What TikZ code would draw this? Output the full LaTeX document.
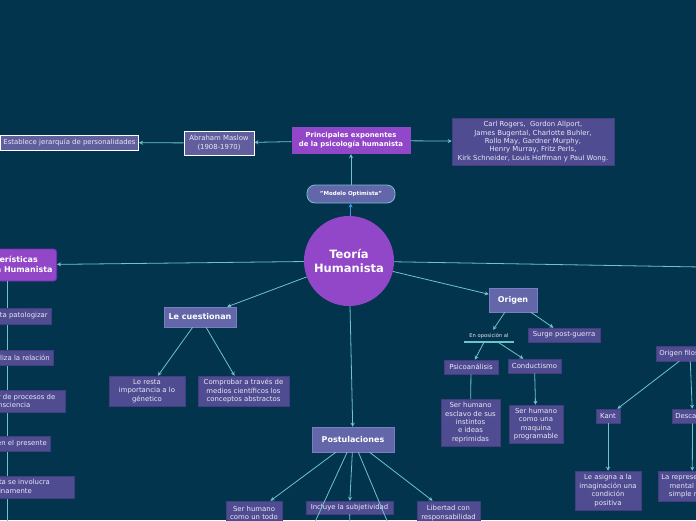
\documentclass[tikz,border=0pt]{standalone}
\usepackage{fontspec}
\setmainfont{DejaVu Sans}
\usetikzlibrary{arrows.meta, positioning}
\definecolor{bgc}{RGB}{3,52,78}
\definecolor{purplec}{RGB}{146,70,200}
\definecolor{purpleb}{RGB}{112,48,178}
\definecolor{leafc}{RGB}{80,76,146}
\definecolor{leafb}{RGB}{66,62,128}
\definecolor{headc}{RGB}{99,102,168}
\definecolor{headb}{RGB}{122,126,192}
\definecolor{linkc}{RGB}{110,195,205}
\definecolor{bluec}{RGB}{60,150,225}
\definecolor{txtc}{RGB}{232,232,244}

\begin{document}
\begin{tikzpicture}[x=1pt,y=-1pt,
  leaf/.style={fill=leafc, draw=leafb, line width=0.5pt, text=txtc, align=center,
    inner sep=0pt, font=\fontsize{6.9}{8.4}\selectfont},
  side/.style={leaf, inner xsep=3pt},
  head/.style={fill=headc, draw=headb, line width=0.5pt, text=white, align=center,
    inner sep=0pt, font=\bfseries\fontsize{8}{10}\selectfont},
  topic/.style={fill=purplec, text=white, align=center, inner sep=0pt,
    font=\bfseries\fontsize{6.9}{9}\selectfont},
  framed/.style={leaf, fill=leafc!90!white, draw=white, line width=0.9pt},
  link/.style={draw=linkc, line width=0.8pt, -{Stealth[length=4pt,width=4pt]}},
  plain/.style={draw=linkc, line width=0.8pt}]
\useasboundingbox (0,0) rectangle (696,520);
\fill [bgc] (0,0) rectangle (696,520);
\clip (0,0) rectangle (696,520);

\node [circle, fill=purplec, minimum size=90, inner sep=0pt, text=white, align=center,
  font=\bfseries\fontsize{11.5}{14}\selectfont] (theory) at (349,261) {Teoría\\Humanista};

\node [fill=headc, draw=linkc, line width=0.8pt, rounded corners=8pt, minimum width=88,
  minimum height=18, inner sep=0pt, text=white, font=\bfseries\fontsize{5.5}{7}\selectfont]
  (model) at (351,194) {"Modelo Optimista"};
\node [topic, minimum width=119, minimum height=27] (exponents) at (351,140.5)
  {Principales exponentes\\de la psicología humanista};
\node [leaf, minimum width=162, minimum height=47] (authors) at (533,141.5)
  {Carl Rogers,\ \ Gordon Allport,\\James Bugental, Charlotte Buhler,\\Rollo May, Gardner Murphy,\\Henry Murray, Fritz Perls,\\Kirk Schneider, Louis Hoffman y Paul Wong.};
\node [framed, minimum width=70, minimum height=24] (maslow) at (219,143)
  {Abraham Maslow\\(1908-1970)};
\node [framed, anchor=east, inner xsep=3pt, minimum height=15] (hierarchy) at (139,142.5)
  {Establece jerarquía de personalidades};

\node [topic, draw=purpleb, line width=0.9pt, rounded corners=3pt, anchor=east, inner xsep=4pt,
  minimum height=32, font=\bfseries\fontsize{8}{10.5}\selectfont] (traits) at (57,265)
  {Características\\Psicología Humanista};
\coordinate (trunk) at (7,540);
\draw [plain] (trunk |- traits.south) -- (trunk);
\node [side, anchor=east, minimum height=16] (pathol) at (51,316) {Evita patologizar};
\node [side, anchor=east, minimum height=15] (relation) at (53,358) {Horizontaliza la relación};
\node [leaf, anchor=east, minimum width=109, minimum height=22] (process) at (65,401)
  {Facilitador de procesos de\\consciencia};
\node [side, anchor=east, minimum height=15] (present) at (50,444) {Se centra en el presente};
\node [leaf, anchor=east, minimum width=134, minimum height=22] (genuine) at (74,487)
  {El terapeuta se involucra\\genuinamente};

\node [head, minimum width=72, minimum height=20] (question) at (200,317) {Le cuestionan};
\node [leaf, minimum width=76, minimum height=30] (genetic) at (147,391)
  {Le resta\\importancia a lo\\génetico};
\node [leaf, minimum width=91, minimum height=30] (abstract) at (243.5,391)
  {Comprobar a través de\\medios científicos los\\conceptos abstractos};

\node [head, minimum width=48, minimum height=24] (origin) at (513,300) {Origen};
\node [text=txtc, minimum width=50, minimum height=12, inner sep=0pt,
  font=\fontsize{5.2}{6}\selectfont] (opposition) at (489,336) {En oposición al};
\draw [linkc, line width=1.6pt] (opposition.south west) -- (opposition.south east);
\node [leaf, minimum width=72, minimum height=14] (postwar) at (564,335) {Surge post-guerra};
\node [leaf, minimum width=54, minimum height=14] (psycho) at (471,367) {Psicoanálisis};
\node [leaf, minimum width=53, minimum height=14] (behavior) at (534.5,366) {Conductismo};
\node [leaf, minimum width=59, minimum height=47] (slave) at (470.5,422.5)
  {Ser humano\\esclavo de sus\\instintos\\e ideas\\reprimidas};
\node [leaf, minimum width=54, minimum height=38] (machine) at (536,424)
  {Ser humano\\como una\\maquina\\programable};

\node [side, anchor=west, minimum height=15] (philo) at (656,353.5) {Origen filosófico};
\node [leaf, minimum width=24, minimum height=14] (kant) at (608,416) {Kant};
\node [side, anchor=west, minimum height=14] (descartes) at (672,416) {Descartes};
\node [leaf, minimum width=66, minimum height=39] (imagin) at (608,490.5)
  {Le asigna a la\\imaginación una\\condición\\positiva};
\node [side, anchor=west, minimum height=30] (represent) at (658,486)
  {La representación\\mental no es\\simple reflejo};

\node [head, minimum width=82, minimum height=25] (postul) at (353,439.5) {Postulaciones};
\node [leaf, minimum width=56, minimum height=24] (whole) at (254,513) {Ser humano\\como un todo};
\node [leaf, minimum width=87, minimum height=13] (subject) at (349.5,507.5) {Incluye la subjetividad};
\node [leaf, minimum width=63, minimum height=24] (freedom) at (448.5,513) {Libertad con\\responsabilidad};
\coordinate (postL) at (309,535);
\coordinate (postR) at (393,535);
\coordinate (subBelow) at (350,535);
\coordinate (rightOff) at (760,268);

\draw [link] (theory) -- (traits);
\draw [plain] (theory) -- (rightOff);
\draw [link, draw=bluec] (theory) -- (model);
\draw [link] (model) -- (exponents);
\draw [link] (exponents) -- (maslow);
\draw [link] (maslow) -- (hierarchy);
\draw [link] (exponents) -- (authors);
\draw [link] (theory) -- (question);
\draw [link] (question) -- (genetic);
\draw [link] (question) -- (abstract);
\draw [link] (theory) -- (origin);
\draw [link] (origin) -- (opposition);
\draw [link] (origin) -- (postwar);
\draw [link] ([xshift=-5pt]opposition.south) -- (psycho);
\draw [link] ([xshift=9pt]opposition.south) -- (behavior);
\draw [plain] (psycho) -- (slave);
\draw [link] (behavior) -- (machine);
\draw [link] ([xshift=-8pt]philo.south) -- (kant);
\draw [link] ([xshift=3pt]philo.south) -- (descartes);
\draw [link] (kant) -- (imagin);
\draw [link] (descartes) -- (represent);
\draw [link] (theory) -- (postul);
\draw [link] (postul) -- (whole);
\draw [plain] (postul) -- (postL);
\draw [link] (postul) -- (subject);
\draw [plain] (postul) -- (postR);
\draw [link] (postul) -- (freedom);
\draw [plain] (subject) -- (subBelow);
\end{tikzpicture}
\end{document}
